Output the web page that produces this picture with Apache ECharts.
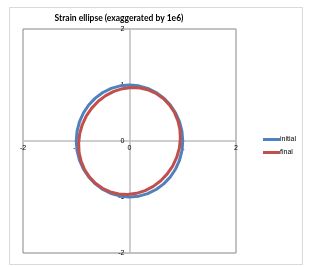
<!DOCTYPE html>
<html>
<head>
<meta charset="utf-8">
<script src="https://cdn.jsdelivr.net/npm/echarts@6/dist/echarts.min.js"></script>
<style>html,body{margin:0;padding:0;background:#fff;}#c{width:309px;height:267px;}</style>
</head>
<body>
<div id="c"></div>
<script>
const titleText = 'Strain ellipse (exaggerated by 1e6)';
const seriesNames = ['initial', 'final'];
const axisMin = -2, axisMax = 2, axisInterval = 1;
const initialPoints = [[1,0],[0.985,0.174],[0.94,0.342],[0.866,0.5],[0.766,0.643],[0.643,0.766],[0.5,0.866],[0.342,0.94],[0.174,0.985],[0,1],[-0.174,0.985],[-0.342,0.94],[-0.5,0.866],[-0.643,0.766],[-0.766,0.643],[-0.866,0.5],[-0.94,0.342],[-0.985,0.174],[-1,0],[-0.985,-0.174],[-0.94,-0.342],[-0.866,-0.5],[-0.766,-0.643],[-0.643,-0.766],[-0.5,-0.866],[-0.342,-0.94],[-0.174,-0.985],[0,-1],[0.174,-0.985],[0.342,-0.94],[0.5,-0.866],[0.643,-0.766],[0.766,-0.643],[0.866,-0.5],[0.94,-0.342],[0.985,-0.174],[1,0]];
const finalPoints = [[0.955,0.035],[0.947,0.201],[0.910,0.360],[0.845,0.508],[0.754,0.641],[0.641,0.754],[0.508,0.845],[0.360,0.910],[0.201,0.947],[0.035,0.955],[-0.132,0.935],[-0.294,0.886],[-0.447,0.810],[-0.587,0.709],[-0.709,0.587],[-0.810,0.447],[-0.886,0.294],[-0.935,0.132],[-0.955,-0.035],[-0.947,-0.201],[-0.910,-0.360],[-0.845,-0.508],[-0.754,-0.641],[-0.641,-0.754],[-0.508,-0.845],[-0.360,-0.910],[-0.201,-0.947],[-0.035,-0.955],[0.132,-0.935],[0.294,-0.886],[0.447,-0.810],[0.587,-0.709],[0.709,-0.587],[0.810,-0.447],[0.886,-0.294],[0.935,-0.132],[0.955,0.035]];

const W = 309, H = 267;
const gridL = 23, gridT = 29, gridR = 73, gridB = 14;
const gridW = W - gridL - gridR, gridH = H - gridT - gridB;
const chart = echarts.init(document.getElementById('c'), null, {renderer: 'canvas'});
const font = 'Liberation Sans';
chart.setOption({
  animation: false,
  backgroundColor: '#fff',
  graphic: [{
    type: 'rect', left: 7, top: 5, shape: {width: 293, height: 257},
    style: {fill: 'none', stroke: '#d9d9d9', lineWidth: 1}, silent: true
  }],
  title: {
    text: titleText, left: 114, top: 9, textAlign: 'center',
    textStyle: {fontFamily: 'Lato', fontWeight: 'bold', fontSize: 8.5, color: '#000'}
  },
  legend: {
    orient: 'vertical', left: 258, top: 131, itemWidth: 17, itemHeight: 3, itemGap: 6,
    icon: 'rect',
    data: seriesNames,
    textStyle: {fontFamily: font, fontSize: 7, color: '#000', padding: [0,0,0,-5]}
  },
  grid: {left: gridL, top: gridT, right: gridR, bottom: gridB, show: true, borderColor: '#868686', borderWidth: 1, containLabel: false},
  xAxis: {
    type: 'value', min: axisMin, max: axisMax, interval: axisInterval,
    position: 'bottom', offset: -gridH / 2,
    axisLine: {onZero: false, lineStyle: {color: '#bfbfbf', width: 1.5}},
    axisTick: {show: false},
    splitLine: {show: false},
    axisLabel: {fontFamily: font, fontSize: 7, color: '#000', margin: 4}
  },
  yAxis: {
    type: 'value', min: axisMin, max: axisMax, interval: axisInterval,
    position: 'left', offset: -gridW / 2,
    axisLine: {onZero: false, lineStyle: {color: '#bfbfbf', width: 1.5}},
    axisTick: {show: false},
    splitLine: {show: false},
    axisLabel: {fontFamily: font, fontSize: 7, color: '#000', margin: 5}
  },
  series: [
    {name: seriesNames[0], type: 'line', data: initialPoints, showSymbol: false, symbol: 'none',
     lineStyle: {color: '#4f81bd', width: 3}, itemStyle: {color: '#4f81bd'}},
    {name: seriesNames[1], type: 'line', data: finalPoints, showSymbol: false, symbol: 'none',
     lineStyle: {color: '#c0504d', width: 3}, itemStyle: {color: '#c0504d'}}
  ]
});
</script>
</body>
</html>
